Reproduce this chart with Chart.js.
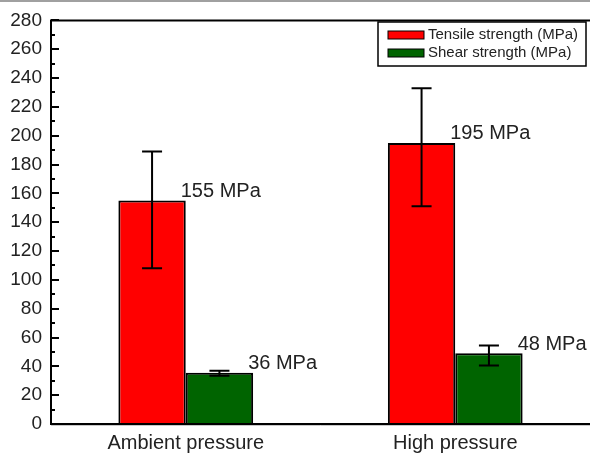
<!DOCTYPE html>
<html>
<head>
<meta charset="utf-8">
<script src="https://cdn.jsdelivr.net/npm/chart.js@4"></script>
<style>
  html, body { margin: 0; padding: 0; background: #fff; }
  #wrap { width: 590px; height: 455px; position: relative; }
</style>
</head>
<body>
<div id="wrap"><canvas id="c"></canvas></div>
<script>
const categories = ["Ambient pressure", "High pressure"];
const seriesNames = ["Tensile strength (MPa)", "Shear strength (MPa)"];
const tensile = [155, 195];
const shear = [35.5, 49];
const tensileErrLow = [108, 151];
const tensileErrHigh = [189, 233];
const shearErrLow = [33.5, 40.5];
const shearErrHigh = [37, 54.5];
const tensileLabels = ["155 MPa", "195 MPa"];
const shearLabels = ["36 MPa", "48 MPa"];
const yMax = 280;
const yStep = 20;

const FONT = "'Liberation Sans', Arial, Helvetica, sans-serif";
const TEXT = "#222";

const errLows = [tensileErrLow, shearErrLow];
const errHighs = [tensileErrHigh, shearErrHigh];
const valueLabels = [tensileLabels, shearLabels];

const decorPlugin = {
  id: 'decor',
  afterDatasetsDraw(chart) {
    const ctx = chart.ctx;
    const y = chart.scales.y;
    const ca = chart.chartArea;
    ctx.save();
    // error bars
    ctx.strokeStyle = '#000';
    ctx.lineWidth = 2;
    chart.data.datasets.forEach((ds, di) => {
      const meta = chart.getDatasetMeta(di);
      meta.data.forEach((bar, i) => {
        const x = bar.x;
        const yl = y.getPixelForValue(errLows[di][i]);
        const yh = y.getPixelForValue(errHighs[di][i]);
        const cap = 10;
        ctx.beginPath();
        ctx.moveTo(x, yl); ctx.lineTo(x, yh);
        ctx.moveTo(x - cap, yl); ctx.lineTo(x + cap, yl);
        ctx.moveTo(x - cap, yh); ctx.lineTo(x + cap, yh);
        ctx.stroke();
      });
    });
    // value labels
    ctx.fillStyle = TEXT;
    ctx.font = "20px " + FONT;
    ctx.textAlign = 'left';
    ctx.textBaseline = 'middle';
    chart.data.datasets.forEach((ds, di) => {
      const meta = chart.getDatasetMeta(di);
      meta.data.forEach((bar, i) => {
        const right = bar.x + bar.width / 2;
        ctx.fillText(valueLabels[di][i], right - 5, bar.y - 9);
      });
    });
    // axes frame
    ctx.strokeStyle = '#000';
    ctx.lineWidth = 2;
    ctx.beginPath();
    ctx.moveTo(ca.left, ca.bottom);
    ctx.lineTo(ca.left, ca.top);
    ctx.lineTo(ca.right, ca.top);
    ctx.moveTo(ca.left - 1, ca.bottom);
    ctx.lineTo(ca.right, ca.bottom);
    ctx.stroke();
    // inward ticks
    ctx.lineWidth = 2;
    ctx.beginPath();
    for (let v = 0; v <= yMax; v += yStep / 2) {
      const py = Math.round(y.getPixelForValue(v));
      const len = (v % yStep === 0) ? 8 : 4;
      ctx.moveTo(ca.left, py);
      ctx.lineTo(ca.left + len, py);
    }
    ctx.stroke();
    // light shadow under x-axis and top strip
    ctx.strokeStyle = '#c8c8c8';
    ctx.lineWidth = 1;
    ctx.beginPath();
    ctx.moveTo(ca.left, ca.bottom + 1.5);
    ctx.lineTo(ca.right, ca.bottom + 1.5);
    ctx.stroke();
    ctx.strokeStyle = '#a0a0a0';
    ctx.lineWidth = 2;
    ctx.beginPath();
    ctx.moveTo(0, 1);
    ctx.lineTo(chart.width, 1);
    ctx.stroke();
    // legend
    const lx = 378, ly = 22, lw = 208, lh = 44;
    ctx.fillStyle = '#fff';
    ctx.fillRect(lx, ly, lw, lh);
    ctx.strokeStyle = '#000';
    ctx.lineWidth = 1.5;
    ctx.strokeRect(lx, ly, lw, lh);
    ctx.font = "15px " + FONT;
    ctx.textBaseline = 'middle';
    chart.data.datasets.forEach((ds, di) => {
      const cy = ly + 13 + di * 18;
      ctx.fillStyle = ds.backgroundColor;
      ctx.fillRect(388, cy - 4, 36, 8);
      ctx.strokeStyle = '#000';
      ctx.lineWidth = 1;
      ctx.strokeRect(388, cy - 4, 36, 8);
      ctx.fillStyle = TEXT;
      ctx.fillText(ds.label, 428, cy);
    });
    ctx.restore();
  }
};

new Chart(document.getElementById('c'), {
  type: 'bar',
  data: {
    labels: categories,
    datasets: [
      { label: seriesNames[0], data: tensile, backgroundColor: '#ff0000', borderColor: '#000', borderWidth: 2, borderSkipped: 'bottom' },
      { label: seriesNames[1], data: shear, backgroundColor: '#006400', borderColor: '#000', borderWidth: 2, borderSkipped: 'bottom' }
    ]
  },
  options: {
    responsive: true,
    maintainAspectRatio: false,
    animation: false,
    layout: { padding: { top: 20, right: 0, left: 0, bottom: 0 } },
    plugins: { legend: { display: false }, tooltip: { enabled: false } },
    datasets: { bar: { categoryPercentage: 0.5, barPercentage: 1.0 } },
    scales: {
      x: {
        grid: { display: false, drawTicks: false },
        border: { display: false },
        ticks: { color: TEXT, font: { family: FONT, size: 20 }, padding: 7, maxRotation: 0 },
        afterFit(s) { s.height = 31; }
      },
      y: {
        min: 0, max: yMax,
        grid: { display: false, drawTicks: false },
        border: { display: false },
        ticks: { stepSize: yStep, color: TEXT, font: { family: FONT, size: 19 }, padding: 9 },
        afterFit(s) { s.width = 51; }
      }
    }
  },
  plugins: [decorPlugin]
});
</script>
</body>
</html>
